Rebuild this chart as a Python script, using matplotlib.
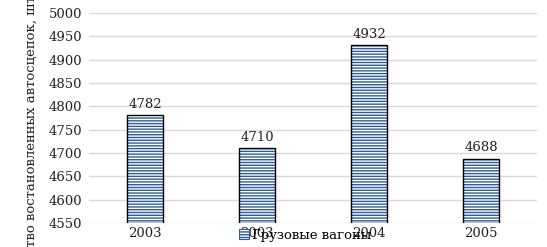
import matplotlib
matplotlib.use("Agg")
import matplotlib.pyplot as plt
from matplotlib.patches import Patch

# Data
years = ['2003', '2003', '2004', '2005']
values = [4782, 4710, 4932, 4688]
series_name = "Грузовые вагоны"
y_label = "Количество востановленных автосцепок, шт"
y_ticks = [4550, 4600, 4650, 4700, 4750, 4800, 4850, 4900, 4950, 5000]

plt.rcParams['font.family'] = ['DejaVu Serif']
plt.rcParams['hatch.linewidth'] = 1.0

fig = plt.figure(figsize=(5.47, 2.47), dpi=100)
ax = fig.add_axes([89 / 547, 1 - 223 / 247, 448 / 547, 210 / 247])

x = range(len(values))
bar_w = 0.32
hatch_blue = '#2E5C9A'

# hatched fill (hatch takes edge colour), then a black outline on top
ax.bar(x, [v - 4550 for v in values], bottom=4550, width=bar_w,
       color='white', edgecolor=hatch_blue, hatch='------', linewidth=0, zorder=2)
ax.bar(x, [v - 4550 for v in values], bottom=4550, width=bar_w,
       fill=False, edgecolor='black', linewidth=1.0, zorder=3)

for i, v in enumerate(values):
    ax.text(i, v + 9, str(v), ha='center', va='bottom', fontsize=9.5, color='#222222')

ax.set_xlim(-0.5, len(values) - 0.5)
ax.set_ylim(4550, 5000)
ax.set_yticks(y_ticks)
ax.set_xticks(list(x))
ax.set_xticklabels(years)
ax.tick_params(axis='both', length=0, labelsize=9.5, colors='#222222')
ax.tick_params(axis='y', pad=5)
ax.tick_params(axis='x', pad=3)
ax.grid(axis='y', color='#d9d9d9', linewidth=1.0, zorder=0)
ax.set_axisbelow(True)
for s in ax.spines.values():
    s.set_visible(False)

fig.text(31 / 547, 0.39, y_label, rotation=90, ha='center', va='center',
         fontsize=9.5, color='#222222')

handle = Patch(facecolor='white', edgecolor=hatch_blue, hatch='------', linewidth=0.8)
fig.legend([handle], [series_name], loc='center', bbox_to_anchor=(305 / 547, 1 - 235 / 247),
           frameon=False, fontsize=9.5, handlelength=0.8, handleheight=0.8,
           handletextpad=0.2, borderpad=0)

fig.savefig("out.png", dpi=100)
